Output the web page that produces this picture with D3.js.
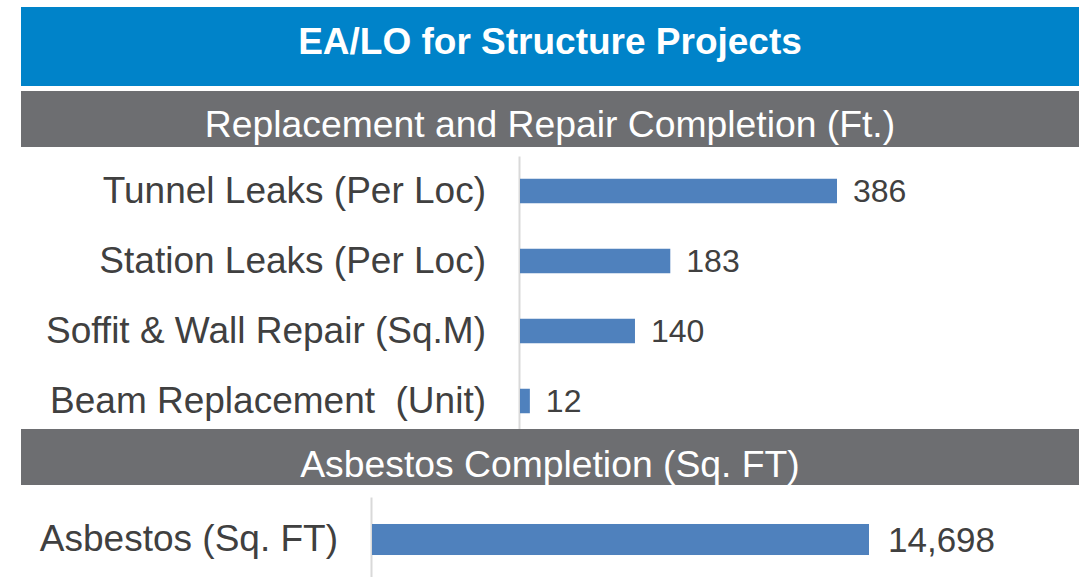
<!DOCTYPE html>
<html>
<head>
<meta charset="utf-8">
<script src="https://cdn.jsdelivr.net/npm/d3@7"></script>
<style>
  body { margin: 0; background: #fff; }
  svg { display: block; font-family: "Liberation Sans", Arial, sans-serif; }
  text { white-space: pre; }
</style>
</head>
<body>
<svg id="chart" width="1088" height="577"></svg>
<script>
// data ------------------------------------------------------------------
var title = "EA/LO for Structure Projects";
var repair_title = "Replacement and Repair Completion (Ft.)";
var repair_categories = ["Tunnel Leaks (Per Loc)", "Station Leaks (Per Loc)", "Soffit & Wall Repair (Sq.M)", "Beam Replacement  (Unit)"];
var repair_values = [386, 183, 140, 12];
var asbestos_title = "Asbestos Completion (Sq. FT)";
var asbestos_categories = ["Asbestos (Sq. FT)"];
var asbestos_values = [14698];

var blue = "#0083c9", band_gray = "#6d6e71", bar_color = "#4f81bd", text_color = "#404040";
var fmt = d3.format(",");

var svg = d3.select("#chart");

//-------------------------------------------------------------------------
// bar section helper
function draw_bars(categories, values, opt) {
    var data = categories.map(function(c, i) { return {name: c, value: values[i]}; });

    var y = d3.scaleBand()
        .domain(categories)
        .range([opt.top, opt.bottom])
        .paddingInner(opt.pad)
        .paddingOuter(opt.pad / 2);

    var x = d3.scaleLinear()
        .domain([0, d3.max(values)])
        .range([opt.left, opt.right]);

    var g = svg.append("g");

    var yAxis = g.append("g")
        .attr("transform", `translate(${opt.left - 1},0)`)
        .call(d3.axisLeft(y).tickSize(0).tickPadding(opt.pad_label).tickSizeOuter(0));

    yAxis.select(".domain")
        .attr("stroke", "#d9d9d9")
        .attr("stroke-width", 2);

    yAxis.selectAll("text")
        .attr("font-size", opt.label_size + "px")
        .attr("fill", text_color)
        .attr("font-family", "Liberation Sans, Arial, sans-serif")
        .attr("xml:space", "preserve");

    g.selectAll("rect.bar")
        .data(data)
        .enter().append("rect")
        .attr("class", "bar")
        .attr("x", x(0))
        .attr("y", d => y(d.name))
        .attr("width", d => x(d.value) - x(0))
        .attr("height", y.bandwidth())
        .attr("fill", bar_color);

    g.selectAll(".text-number")
        .data(data)
        .enter().append("text")
        .attr("class", "text-number")
        .attr("x", d => x(d.value) + opt.value_gap)
        .attr("y", d => y(d.name) + y.bandwidth() / 2)
        .attr("dy", "0.35em")
        .attr("font-size", opt.value_size + "px")
        .attr("fill", text_color)
        .text(d => fmt(d.value));
}

function header(x0, x1, y0, y1, fill, txt, baseline, size, weight) {
    svg.append("rect")
        .attr("x", x0).attr("y", y0)
        .attr("width", x1 - x0).attr("height", y1 - y0)
        .attr("fill", fill);
    svg.append("text")
        .attr("x", (x0 + x1) / 2)
        .attr("y", baseline)
        .attr("text-anchor", "middle")
        .attr("fill", "#fff")
        .attr("font-size", size + "px")
        .attr("font-weight", weight)
        .text(txt);
}

// charts first so the headers sit on top of the axis lines
draw_bars(repair_categories, repair_values, {
    top: 156, bottom: 436, pad: 0.65, left: 520, right: 837,
    pad_label: 33, label_size: 37, value_size: 32, value_gap: 16
});

draw_bars(asbestos_categories, asbestos_values, {
    top: 497, bottom: 582, pad: 0.635, left: 372, right: 869,
    pad_label: 33, label_size: 37, value_size: 35, value_gap: 19
});

header(21, 1079, 7, 86, blue, title, 54, 37, "bold");
header(21, 1079, 91, 147, band_gray, repair_title, 137, 37.3, "normal");
header(21, 1079, 429, 485, band_gray, asbestos_title, 477, 37.3, "normal");
</script>
</body>
</html>
